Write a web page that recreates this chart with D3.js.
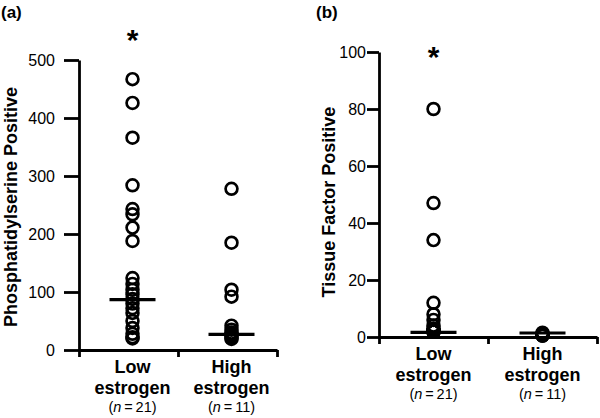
<!DOCTYPE html>
<html>
<head>
<meta charset="utf-8">
<script src="https://cdn.jsdelivr.net/npm/d3@7"></script>
<style>
  body { margin: 0; background: #fff; }
  text { font-family: Arial, "Liberation Sans", sans-serif; fill: #000; }
</style>
</head>
<body>
<div id="chart"></div>
<script>
const groups = ['Low estrogen', 'High estrogen'];
const groupLines = [['Low', 'estrogen'], ['High', 'estrogen']];
const groupN = [21, 11];

// panel (a) phosphatidylserine positive
const psLow = [467, 426, 366, 284, 243, 234, 211, 188, 124, 114, 104, 96, 88, 80, 72, 64, 50, 38, 28, 22, 20];
const psHigh = [278, 185, 104, 92, 42, 35, 30, 27, 24, 21, 19];
const psMedians = [87, 27];
const psTicks = [0, 100, 200, 300, 400, 500];

// panel (b) tissue factor positive
const tfLow = [80, 47, 34, 12, 8, 6, 4, 3, 2, 2, 2, 2, 2, 2, 2, 2, 2, 2, 2, 2, 2];
const tfHigh = [1.5, 1, 1, 1, 1, 1, 1, 1, 0.5, 0.5, 0.5];
const tfMedians = [1.6, 1.4];
const tfTicks = [0, 20, 40, 60, 80, 100];

const svg = d3.select('#chart')
              .append('svg')
              .attr('width', 600)
              .attr('height', 418);

const drawPanel = opts => {
    const g = svg.append('g');
    const y = d3.scaleLinear().domain(opts.yDomain).range([opts.bottom, opts.top]);
    const x = d3.scaleBand().domain(groups).range([opts.left, opts.right]);
    const xEdge = d3.scaleLinear().domain([0, groups.length]).range([opts.left, opts.right]);

    // y axis
    const yAxis = g.append('g')
                   .attr('transform', `translate(${opts.left},0)`)
                   .call(d3.axisLeft(y).tickValues(opts.ticks).tickSize(opts.tickLen).tickSizeOuter(0).tickPadding(opts.tickPad));
    yAxis.select('.domain').attr('stroke-width', 2.8);
    yAxis.selectAll('.tick line').attr('stroke-width', 2.8);
    yAxis.selectAll('.tick text')
         .style('font-size', '16px')
         .style('font-family', 'Arial, "Liberation Sans", sans-serif');

    // x axis with ticks on group edges
    const xAxis = g.append('g')
                   .attr('transform', `translate(0,${opts.bottom})`)
                   .call(d3.axisBottom(xEdge).tickValues([0, 1, 2]).tickSize(7).tickSizeOuter(0).tickFormat(''));
    xAxis.select('.domain').attr('stroke-width', 2.8);
    xAxis.selectAll('.tick line').attr('stroke-width', 2.8);

    // points
    opts.series.forEach((vals, i) => {
        g.append('g').selectAll('circle')
          .data(vals)
          .enter()
          .append('circle')
          .attr('cx', x(groups[i]) + x.bandwidth() / 2 + opts.shift)
          .attr('cy', d => y(d))
          .attr('r', 5.9)
          .attr('fill', 'none')
          .attr('stroke', '#000')
          .attr('stroke-width', 2.7);
    });

    // median bars
    g.append('g').selectAll('line')
      .data(opts.medians)
      .enter()
      .append('line')
      .attr('x1', (d, i) => x(groups[i]) + x.bandwidth() / 2 + opts.shift - 23)
      .attr('x2', (d, i) => x(groups[i]) + x.bandwidth() / 2 + opts.shift + 23)
      .attr('y1', d => y(d))
      .attr('y2', d => y(d))
      .attr('stroke', '#000')
      .attr('stroke-width', 3.2);

    // significance star
    g.append('text')
      .attr('x', x(groups[0]) + x.bandwidth() / 2 + opts.shift)
      .attr('y', opts.starY)
      .attr('text-anchor', 'middle')
      .style('font-size', '30px')
      .style('font-weight', 'bold')
      .text('*');

    // group labels
    groups.forEach((grp, i) => {
        const cx = x(grp) + x.bandwidth() / 2 + opts.shift;
        const t = g.append('text')
                   .attr('text-anchor', 'middle')
                   .style('font-size', '18px')
                   .style('font-weight', 'bold');
        t.append('tspan').attr('x', cx).attr('y', opts.bottom + 23).text(groupLines[i][0]);
        t.append('tspan').attr('x', cx).attr('y', opts.bottom + 44).text(groupLines[i][1]);
        const n = g.append('text')
                   .attr('x', cx)
                   .attr('y', opts.bottom + 62)
                   .attr('text-anchor', 'middle')
                   .style('font-size', '14.5px');
        n.append('tspan').text('(');
        n.append('tspan').style('font-style', 'italic').text('n');
        n.append('tspan').text('\u2009=\u2009' + groupN[i] + ')');
    });

    // y label
    g.append('text')
      .attr('transform', `translate(${opts.labelX},${opts.labelY}) rotate(-90)`)
      .attr('text-anchor', 'middle')
      .style('font-size', '18px')
      .style('font-weight', 'bold')
      .text(opts.yLabel);

    // panel letter
    g.append('text')
      .attr('x', opts.letterX)
      .attr('y', 18)
      .style('font-size', '17px')
      .style('font-weight', 'bold')
      .text(opts.letter);
};

drawPanel({
    series: [psLow, psHigh], medians: psMedians, ticks: psTicks,
    yDomain: [0, 500], top: 60, bottom: 350, left: 79, right: 277, shift: 4,
    tickLen: 15, tickPad: 9, starY: 50,
    yLabel: 'Phosphatidylserine Positive', labelX: 17, labelY: 207,
    letter: '(a)', letterX: 1
});

drawPanel({
    series: [tfLow, tfHigh], medians: tfMedians, ticks: tfTicks,
    yDomain: [0, 100], top: 52, bottom: 337, left: 379, right: 597, shift: 0,
    tickLen: 12, tickPad: 1, starY: 67,
    yLabel: 'Tissue Factor Positive', labelX: 335, labelY: 202,
    letter: '(b)', letterX: 316
});
</script>
</body>
</html>
